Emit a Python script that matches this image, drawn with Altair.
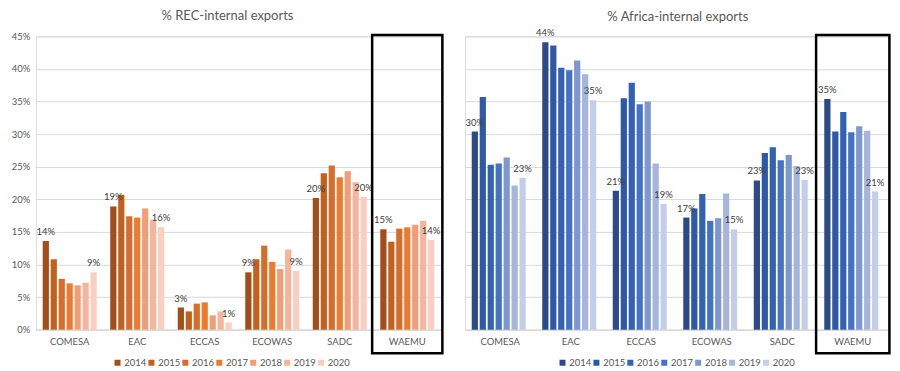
import altair as alt
import pandas as pd

recs = ["COMESA", "EAC", "ECCAS", "ECOWAS", "SADC", "WAEMU"]
years = ["2014", "2015", "2016", "2017", "2018", "2019", "2020"]
highlight = ["WAEMU"]

# % REC-internal exports
rec_comesa = [13.6, 10.8, 7.8, 7.1, 6.8, 7.2, 8.8]
rec_eac = [18.9, 20.7, 17.4, 17.2, 18.6, 16.9, 15.7]
rec_eccas = [3.4, 2.8, 4.0, 4.2, 2.2, 2.8, 1.1]
rec_ecowas = [8.8, 10.8, 12.9, 10.4, 9.3, 12.3, 9.0]
rec_sadc = [20.2, 24.0, 25.2, 23.4, 24.3, 22.6, 20.4]
rec_waemu = [15.4, 13.5, 15.5, 15.7, 16.1, 16.7, 13.8]

# % Africa-internal exports
afr_comesa = [30.4, 35.7, 25.3, 25.5, 26.4, 22.1, 23.3]
afr_eac = [44.1, 43.6, 40.2, 39.8, 41.3, 39.2, 35.2]
afr_eccas = [21.3, 35.5, 37.9, 34.6, 35.0, 25.5, 19.3]
afr_ecowas = [17.2, 18.6, 20.8, 16.7, 17.1, 20.9, 15.4]
afr_sadc = [22.9, 27.1, 28.0, 26.0, 26.8, 25.1, 23.0]
afr_waemu = [35.4, 30.4, 33.4, 30.3, 31.2, 30.5, 21.2]

orange = ["#A24E1A", "#C2601E", "#D56D2C", "#EC7B30", "#F09E78", "#F4B59C", "#F8CFC0"]
blue = ["#2B4A87", "#2F58A6", "#3561B5", "#4472C4", "#7F97CF", "#A5B5DC", "#C4CEE9"]

FONT = "Lato"
GREY = "#595959"
GRID = "#D9D9D9"
FS = 9.5


def make_df(series):
    rows = []
    for rec, vals in zip(recs, series):
        for yr, v in zip(years, vals):
            rows.append({"rec": rec, "year": yr, "value": v, "label": f"{round(v)}%"})
    return pd.DataFrame(rows)


def panel(df, colors, title, width, show_y, legend_x, title_offset):
    xscale = alt.Scale(domain=recs, paddingInner=0, paddingOuter=0)
    xaxis = alt.Axis(title=None, labelAngle=0, ticks=False, domainColor=GRID,
                     labelColor=GREY, labelFontSize=FS, labelFont=FONT, labelPadding=7)
    x = alt.X("rec:N", sort=recs, scale=xscale, axis=xaxis)
    xo = alt.XOffset("year:N", sort=years,
                     scale=alt.Scale(domain=years, paddingInner=0.22, paddingOuter=0.85))
    if show_y:
        yaxis = alt.Axis(title=None, values=list(range(0, 50, 5)), labelExpr="datum.value + '%'",
                         ticks=False, domain=False, gridColor=GRID, labelColor=GREY,
                         labelFontSize=FS, labelFont=FONT, labelPadding=6, labelOverlap=False)
    else:
        yaxis = alt.Axis(title=None, values=list(range(0, 50, 5)), labels=False, ticks=False,
                         domain=False, gridColor=GRID)
    yscale = alt.Scale(domain=[0, 45], nice=False)
    y = alt.Y("value:Q", scale=yscale, axis=yaxis)

    bars = alt.Chart(df).mark_bar().encode(
        x=x, xOffset=xo, y=y,
        color=alt.Color("year:N", sort=years, scale=alt.Scale(domain=years, range=colors),
                        legend=alt.Legend(orient="none", legendX=legend_x, legendY=322,
                                          direction="horizontal", title=None,
                                          symbolType="square", symbolSize=36,
                                          labelFontSize=FS, labelFont=FONT, labelColor=GREY,
                                          columnPadding=0, labelOffset=2)),
    )
    labels = alt.Chart(df).transform_filter(
        "datum.year == '2014' || datum.year == '2020'"
    ).mark_text(baseline="bottom", dy=-4, fontSize=FS, font=FONT, color="#404040").encode(
        x=x, xOffset=xo, y=y, text="label:N"
    )
    box = alt.Chart(pd.DataFrame({"rec": highlight})).mark_bar(
        fill="transparent", stroke="black", strokeWidth=2.5,
        width=alt.RelativeBandSize(band=1.04)
    ).encode(
        x=alt.X("rec:N", sort=recs, scale=xscale, axis=xaxis),
        y=alt.Y(datum=45.2, scale=yscale, axis=yaxis),
        y2=alt.Y2(datum=-3.6),
    )
    return alt.layer(bars, labels, box).properties(
        width=width, height=294,
        title=alt.TitleParams(title, frame="bounds", anchor="middle", fontSize=13, font=FONT,
                              fontWeight="normal", color=GREY, offset=title_offset),
    )


rec_df = make_df([rec_comesa, rec_eac, rec_eccas, rec_ecowas, rec_sadc, rec_waemu])
afr_df = make_df([afr_comesa, afr_eac, afr_eccas, afr_ecowas, afr_sadc, afr_waemu])

left = panel(rec_df, orange, "% REC-internal exports", 406, True, 77, 8)
right = panel(afr_df, blue, "% Africa-internal exports", 424, False, 93, 4)

chart = alt.hconcat(left, right, spacing=19).resolve_scale(color="independent").properties(
    padding={"left": 2, "top": 1, "right": 0, "bottom": 0}
).configure_view(stroke=None).configure(background="white")

chart.save("out.html", embed_options={"renderer": "svg", "actions": False})
